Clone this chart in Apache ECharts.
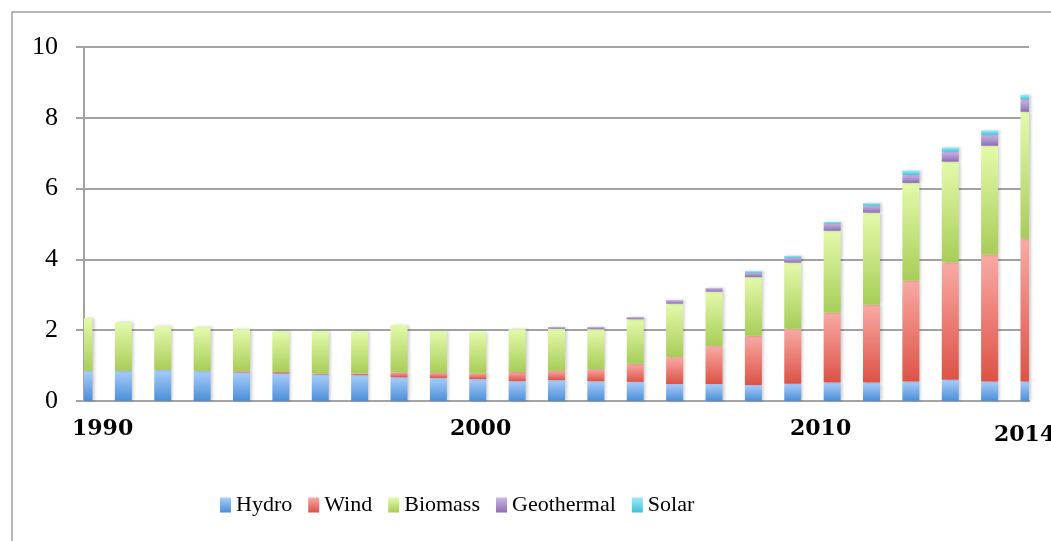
<!DOCTYPE html>
<html>
<head>
<meta charset="utf-8">
<script src="https://cdn.jsdelivr.net/npm/echarts@6.0.0/dist/echarts.min.js"></script>
<style>
  html, body { margin: 0; padding: 0; background: #fff; }
  #chart { width: 1051px; height: 541px; }
</style>
</head>
<body>
<div id="chart"></div>
<script>
// Years on the category axis
const years = ['1990','1991','1992','1993','1994','1995','1996','1997','1998','1999',
  '2000','2001','2002','2003','2004','2005','2006','2007','2008','2009',
  '2010','2011','2012','2013','2014'];

// Generation by source (stacked)
const hydro = [0.85,0.85,0.88,0.85,0.81,0.78,0.75,0.73,0.67,0.65,
  0.62,0.56,0.59,0.56,0.54,0.48,0.48,0.45,0.49,0.52,
  0.52,0.55,0.60,0.55,0.55];
const wind = [0,0,0,0,0.03,0.04,0.03,0.05,0.14,0.14,
  0.16,0.26,0.26,0.34,0.51,0.76,1.07,1.39,1.55,1.97,
  2.20,2.85,3.31,3.58,4.03];
const biomass = [1.49,1.37,1.23,1.23,1.19,1.15,1.19,1.19,1.34,1.19,
  1.18,1.21,1.19,1.13,1.26,1.51,1.54,1.66,1.87,2.32,
  2.60,2.76,2.85,3.08,3.59];
const geothermal = [0,0,0,0,0,0,0,0,0,0,
  0,0,0.05,0.06,0.06,0.10,0.10,0.12,0.14,0.20,
  0.20,0.22,0.28,0.31,0.34];
const solar = [0,0,0,0,0,0,0,0,0,0,
  0,0,0,0,0,0,0,0.05,0.05,0.05,
  0.07,0.13,0.12,0.12,0.14];

// Year labels written under the axis
const yearLabels = ['1990', '2000', '2010', '2014'];
const yearLabelPos = [[72, 429], [450, 429], [790, 429], [994, 435]];

const yTicks = { min: 0, max: 10, interval: 2 };
const BAR_WIDTH = 17;

function grad(top, bottom) {
  return new echarts.graphic.LinearGradient(0, 0, 0, 1, [
    { offset: 0, color: top },
    { offset: 1, color: bottom }
  ]);
}

const seriesDefs = [
  { name: 'Hydro', data: hydro, top: '#a9cdfa', bottom: '#4a8fd8' },
  { name: 'Wind', data: wind, top: '#f9aaa5', bottom: '#dc5246' },
  { name: 'Biomass', data: biomass, top: '#e4faab', bottom: '#a8cd58' },
  { name: 'Geothermal', data: geothermal, top: '#cab8e4', bottom: '#8d6db7' },
  { name: 'Solar', data: solar, top: '#9eebf8', bottom: '#3fbfdc' }
];

// Stack the sources: each item is [yearIndex, base, top]
const running = years.map(() => 0);
const stacked = seriesDefs.map(s => s.data.map((v, i) => {
  const base = running[i];
  running[i] = base + v;
  return [i, base, base + v];
}));

// Stacked bar segment, clipped to the plot area so the end years show as half bars
function renderSegment(params, api) {
  const idx = api.value(0);
  const lo = api.coord([idx, api.value(1)]);
  const hi = api.coord([idx, api.value(2)]);
  if (lo[1] - hi[1] <= 0) return null;
  const rect = echarts.graphic.clipRectByRect(
    { x: lo[0] - BAR_WIDTH / 2, y: hi[1], width: BAR_WIDTH, height: lo[1] - hi[1] },
    { x: params.coordSys.x, y: params.coordSys.y, width: params.coordSys.width, height: params.coordSys.height }
  );
  if (!rect) return null;
  return { type: 'rect', shape: rect, style: api.style() };
}

const chart = echarts.init(document.getElementById('chart'), null, { renderer: 'canvas' });

const axisGray = '#a3a3a3';

const option = {
  animation: false,
  backgroundColor: '#ffffff',
  grid: { left: 84, top: 47, right: 22, bottom: 140, containLabel: false },
  legend: {
    left: 220,
    top: 494,
    padding: 0,
    itemWidth: 11,
    itemHeight: 15,
    itemGap: 16,
    icon: 'rect',
    textStyle: { fontFamily: 'Liberation Serif', fontSize: 22, color: '#000' },
    data: seriesDefs.map(s => s.name)
  },
  xAxis: {
    type: 'category',
    data: years,
    boundaryGap: false,
    axisLine: { show: true, lineStyle: { color: axisGray, width: 2 } },
    axisTick: { show: false },
    axisLabel: { show: false },
    splitLine: { show: false }
  },
  yAxis: {
    type: 'value',
    min: yTicks.min,
    max: yTicks.max,
    interval: yTicks.interval,
    axisLine: { show: true, lineStyle: { color: axisGray, width: 2 } },
    axisTick: { show: true, length: 8, lineStyle: { color: axisGray, width: 2 } },
    axisLabel: { margin: 26, fontFamily: 'Liberation Serif', fontSize: 26, color: '#000' },
    splitLine: { show: true, lineStyle: { color: axisGray, width: 2 } }
  },
  series: seriesDefs.map((s, k) => ({
    name: s.name,
    type: 'custom',
    renderItem: renderSegment,
    encode: { x: 0, y: 2 },
    data: stacked[k],
    itemStyle: {
      color: grad(s.top, s.bottom),
      shadowBlur: 3,
      shadowOffsetX: 2,
      shadowColor: 'rgba(0,0,0,0.2)'
    }
  })),
  graphic: [
    {
      type: 'rect',
      silent: true,
      z: -1,
      shape: { x: 12, y: 12, width: 1200, height: 700 },
      style: { fill: 'none', stroke: '#a0a0a0', lineWidth: 1.5 }
    }
  ].concat(yearLabels.map((t, i) => ({
    type: 'text',
    silent: true,
    x: yearLabelPos[i][0],
    y: yearLabelPos[i][1],
    style: {
      text: t,
      fontFamily: 'DejaVu Serif',
      fontWeight: 'bold',
      fontSize: 22,
      fill: '#000',
      textAlign: 'left',
      textVerticalAlign: 'middle'
    }
  })))
};

chart.setOption(option);
</script>
</body>
</html>
